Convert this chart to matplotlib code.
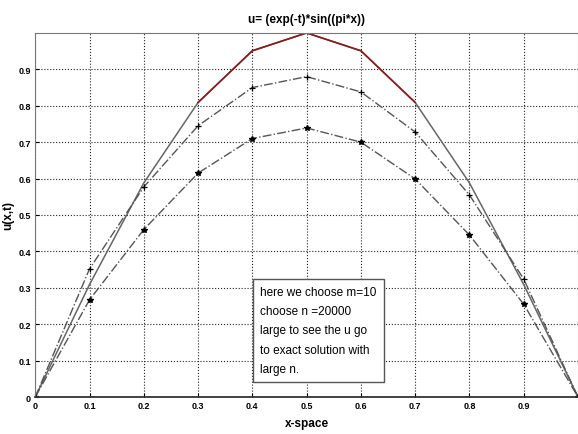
import matplotlib.pyplot as plt
import numpy as np

# grid points and the three profiles of u(x,t)
x = [0, 0.1, 0.2, 0.3, 0.4, 0.5, 0.6, 0.7, 0.8, 0.9, 1.0]
u_exact = [0, 0.309, 0.588, 0.809, 0.951, 1.0, 0.951, 0.809, 0.588, 0.309, 0]
u_plus = [0, 0.352, 0.577, 0.745, 0.85, 0.88, 0.838, 0.728, 0.555, 0.324, 0]
u_star = [0, 0.267, 0.46, 0.615, 0.71, 0.739, 0.70, 0.599, 0.445, 0.255, 0]
ticks = [0, 0.1, 0.2, 0.3, 0.4, 0.5, 0.6, 0.7, 0.8, 0.9]
tick_labels = ["0", "0.1", "0.2", "0.3", "0.4", "0.5", "0.6", "0.7", "0.8", "0.9"]
note = ["here we choose m=10", "choose n =20000", "large to see the u go",
        "to exact solution with", "large n."]

font = ["Liberation Sans", "DejaVu Sans"]

fig = plt.figure(figsize=(5.78, 4.35), dpi=100)
ax = fig.add_axes([0.061, 0.085, 0.939, 0.837])

ax.plot(x, u_exact, color="#666666", lw=1.1)
ax.plot(x[3:8], u_exact[3:8], color="#8b1a1a", lw=1.2)
ax.plot(x, u_plus, color="#555555", lw=1.0, ls="-.", marker="+", ms=5,
        mec="black", mew=0.9)
ax.plot(x, u_star, color="#555555", lw=1.0, ls="-.", marker="*", ms=4,
        mec="black", mfc="black")

ax.set_xlim(0, 1)
ax.set_ylim(0, 1)
ax.set_xticks(ticks)
ax.set_yticks(ticks)
ax.set_xticklabels(tick_labels, family=font, weight="bold", fontsize=6.5)
ax.set_yticklabels(tick_labels, family=font, weight="bold", fontsize=6.5)
ax.tick_params(direction="in", length=3, pad=3)
ax.grid(True, color="#222222", ls=":", lw=0.8)

for side in ["top", "left", "right"]:
    ax.spines[side].set_color("#777777")
ax.spines["bottom"].set_color("#333333")
ax.spines["bottom"].set_linewidth(1.3)

ax.set_title("u= (exp(-t)*sin((pi*x))", family=font, weight="bold",
             fontsize=8.5, pad=8)
ax.set_xlabel("x-space", family=font, weight="bold", fontsize=8.5, labelpad=5)
ax.set_ylabel("u(x,t)", family=font, weight="bold", fontsize=8.5, labelpad=3)

ax.text(0.415, 0.305, "\n".join(note), transform=ax.transAxes, va="top",
        ha="left", family=font, fontsize=8.5, linespacing=1.8,
        bbox=dict(boxstyle="square,pad=0.6", fc="white", ec="#555555", lw=1))

fig.savefig("out.png", dpi=100)
